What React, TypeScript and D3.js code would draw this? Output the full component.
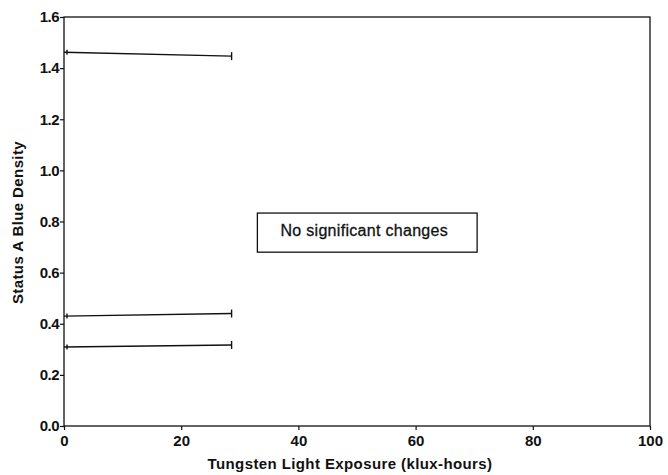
import * as d3 from "d3";
import React, { useEffect, useRef } from "react";

// series: [start, end] exposure and density
const exposure = [0, 28.6];
const series1 = [1.462, 1.447];
const series2 = [0.43, 0.44];
const series3 = [0.309, 0.317];
const xTicks = [0, 20, 40, 60, 80, 100];
const yTicks = [0.0, 0.2, 0.4, 0.6, 0.8, 1.0, 1.2, 1.4, 1.6];
const note = "No significant changes";

const App = () => {
  const ref = useRef<SVGSVGElement>(null);

  useEffect(() => {
    const svg = d3.select(ref.current);
    svg.selectAll("*").remove();

    const left = 64, right = 650, top = 17, bottom = 426;
    const x = d3.scaleLinear().domain([0, 100]).range([left, right]);
    const y = d3.scaleLinear().domain([0, 1.6]).range([bottom, top]);
    const font = "Liberation Sans, Arial, sans-serif";

    // frame
    svg.append("rect")
      .attr("x", left).attr("y", top)
      .attr("width", right - left).attr("height", bottom - top)
      .attr("fill", "none").attr("stroke", "#111").attr("stroke-width", 1.3);

    const xAxis = svg.append("g")
      .attr("transform", `translate(0,${bottom})`)
      .call(d3.axisBottom(x).tickValues(xTicks).tickSize(4).tickFormat(d3.format("d")));
    xAxis.select(".domain").remove();
    xAxis.selectAll("text")
      .attr("font-family", font).attr("font-size", 15).attr("font-weight", "bold")
      .attr("fill", "#111").attr("dy", "0.85em");
    xAxis.selectAll("line").attr("stroke", "#111").attr("stroke-width", 1.2);

    const yAxis = svg.append("g")
      .attr("transform", `translate(${left},0)`)
      .call(d3.axisLeft(y).tickValues(yTicks).tickSize(4).tickFormat(d3.format(".1f")));
    yAxis.select(".domain").remove();
    yAxis.selectAll("text")
      .attr("font-family", font).attr("font-size", 15).attr("font-weight", "bold")
      .attr("fill", "#111").attr("x", -5).attr("letter-spacing", "-0.5");
    yAxis.selectAll("line").attr("stroke", "#111").attr("stroke-width", 1.2);

    // data lines with end caps
    const line = d3.line<number>().x((_, i) => x(exposure[i])).y((d) => y(d));
    [series1, series2, series3].forEach((s) => {
      svg.append("path").attr("d", line(s)!)
        .attr("fill", "none").attr("stroke", "#111").attr("stroke-width", 1.4);
      s.forEach((v, i) => {
        const cx = x(exposure[i]) + (i === 0 ? 3 : 0);
        const h = i === 0 ? 2.5 : 4;
        svg.append("line")
          .attr("x1", cx).attr("x2", cx)
          .attr("y1", y(v) - h).attr("y2", y(v) + h)
          .attr("stroke", "#111").attr("stroke-width", 1.4);
      });
    });

    // annotation box
    svg.append("rect")
      .attr("x", x(33)).attr("y", y(0.833))
      .attr("width", x(70.5) - x(33)).attr("height", y(0.68) - y(0.833))
      .attr("fill", "none").attr("stroke", "#111").attr("stroke-width", 1.3);
    svg.append("text")
      .attr("x", (x(33) + x(70.5)) / 2 - 3).attr("y", (y(0.833) + y(0.68)) / 2 - 2)
      .attr("dy", "0.35em").attr("text-anchor", "middle")
      .attr("font-family", font).attr("font-size", 16).attr("fill", "#111")
      .attr("stroke", "#111").attr("stroke-width", 0.3)
      .attr("letter-spacing", "0.3")
      .text(note);

    svg.append("text")
      .attr("x", (left + right) / 2 - 7).attr("y", 469)
      .attr("text-anchor", "middle")
      .attr("font-family", font).attr("font-size", 15).attr("font-weight", "bold")
      .attr("letter-spacing", "0.4")
      .attr("fill", "#111")
      .text("Tungsten Light Exposure (klux-hours)");

    svg.append("text")
      .attr("transform", `translate(23,${(top + bottom) / 2 + 1}) rotate(-90)`)
      .attr("text-anchor", "middle")
      .attr("font-family", font).attr("font-size", 15).attr("font-weight", "bold")
      .attr("letter-spacing", "0.4")
      .attr("fill", "#111")
      .text("Status A Blue Density");
  }, []);

  return (
    <svg ref={ref} width={668} height={475}
      style={{ position: "absolute", left: 0, top: 0, background: "#fff" }} />
  );
};

export default App;
